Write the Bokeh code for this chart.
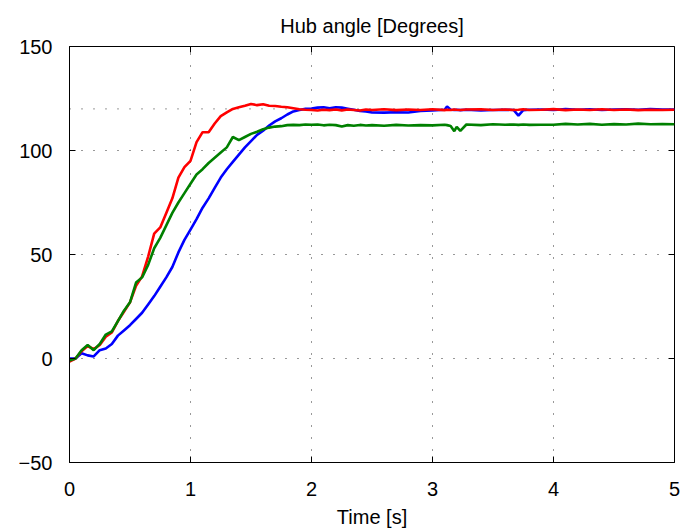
import math
from bokeh.plotting import figure
from bokeh.models import Range1d, FixedTicker, Span
from bokeh.embed import file_html
from bokeh.resources import INLINE

# ---- data ----
time_s = [0.0, 0.05, 0.1, 0.15, 0.2, 0.25, 0.3, 0.35, 0.4, 0.45,
          0.5, 0.55, 0.6, 0.65, 0.7, 0.75, 0.8, 0.85, 0.9, 0.95,
          1.0, 1.05, 1.1, 1.15, 1.2, 1.25, 1.3, 1.35, 1.4, 1.45,
          1.5, 1.55, 1.6, 1.65, 1.7, 1.75, 1.8, 1.85, 1.9, 1.95,
          2.0, 2.05, 2.1, 2.15, 2.2, 2.25, 2.3, 2.35, 2.4, 2.45,
          2.5, 2.6, 2.7, 2.8, 2.9, 3.0, 3.1, 3.12, 3.15, 3.18,
          3.2, 3.23, 3.28, 3.4, 3.5, 3.6, 3.67, 3.71, 3.75, 3.8,
          3.9, 4.0, 4.1, 4.2, 4.3, 4.4, 4.5, 4.6, 4.7, 4.8,
          4.9, 5.0]

blue_deg = [0.0, 0.0, 2.5, 1.5, 1.0, 4.0, 4.8, 7.0, 11.0, 13.5,
            16.0, 19.0, 22.0, 26.0, 30.0, 34.5, 39.0, 44.0, 51.0, 57.0,
            62.0, 67.0, 72.5, 77.0, 82.0, 87.0, 91.0, 94.5, 98.0, 101.5,
            104.5, 107.5, 109.5, 112.0, 114.0, 115.5, 117.3, 118.8, 119.5, 120.0,
            120.2, 120.6, 120.8, 120.3, 120.8, 120.6, 120.1, 119.6, 119.0, 118.8,
            118.3, 118.2, 118.4, 118.3, 119.0, 119.3, 119.6, 121.2, 119.6, 119.5,
            119.6, 119.4, 119.6, 119.3, 119.5, 119.6, 119.5, 116.8, 119.4, 119.6,
            119.7, 119.5, 119.9, 119.6, 119.8, 119.5, 119.7, 119.8, 119.6, 119.9,
            119.7, 119.7]

red_deg = [-1.5, 0.0, 3.5, 6.0, 4.5, 6.5, 10.5, 12.5, 18.0, 22.5,
           27.0, 35.0, 39.5, 49.0, 60.0, 63.0, 70.0, 77.0, 87.0, 92.0,
           95.0, 104.0, 108.8, 108.8, 113.0, 116.5, 118.3, 120.0, 120.8, 121.5,
           122.4, 121.8, 122.2, 121.5, 121.4, 121.0, 120.8, 120.3, 119.8, 119.6,
           119.5, 119.2, 119.6, 119.4, 119.7, 119.3, 119.7, 119.5, 119.2, 119.7,
           119.5, 119.8, 119.4, 119.7, 119.5, 119.8, 119.4, 119.6, 119.5, 119.7,
           119.6, 119.5, 119.7, 119.8, 119.5, 119.7, 119.5, 119.6, 119.8, 119.5,
           119.6, 119.9, 119.4, 119.7, 119.5, 119.8, 119.5, 119.7, 119.4, 119.6,
           119.5, 119.6]

green_deg = [-1.0, 0.0, 4.0, 6.5, 4.0, 7.0, 11.5, 13.0, 18.0, 23.0,
             27.0, 36.5, 39.0, 45.0, 53.0, 58.0, 64.0, 70.0, 75.0, 79.5,
             84.0, 88.5, 91.0, 94.0, 96.5, 99.0, 101.5, 106.5, 105.0, 106.5,
             108.0, 109.0, 110.2, 111.0, 111.5, 111.7, 112.2, 112.3, 112.2, 112.5,
             112.4, 112.5, 112.1, 112.4, 112.2, 111.5, 112.2, 111.9, 112.3, 112.0,
             112.2, 111.9, 112.3, 112.0, 112.2, 112.1, 112.4, 112.2, 111.8, 109.3,
             111.4, 109.4, 112.5, 112.2, 112.6, 112.4, 112.5, 112.3, 112.5, 112.3,
             112.4, 112.4, 112.8, 112.5, 112.8, 112.4, 112.7, 112.5, 112.9, 112.6,
             112.7, 112.6]

reference_deg = 120
x_ticks = [0, 1, 2, 3, 4, 5]
y_ticks = [-50, 0, 50, 100, 150]

FONT = "Liberation Sans"

p = figure(width=695, height=530, output_backend="svg", toolbar_location=None,
           x_range=Range1d(x_ticks[0], x_ticks[-1]),
           y_range=Range1d(y_ticks[0], y_ticks[-1]),
           title="Hub angle [Degrees]",
           min_border_left=69, min_border_right=21,
           min_border_top=46, min_border_bottom=68)

p.title.align = "center"
p.title.text_font = FONT
p.title.text_font_size = "20px"
p.title.text_font_style = "normal"
p.title.text_color = "black"
p.title.standoff = 10
p.title.padding = 5

p.background_fill_color = "white"
p.border_fill_color = "white"
p.outline_line_color = "black"
p.outline_line_width = 1
p.outline_line_alpha = 1

p.xaxis.ticker = FixedTicker(ticks=x_ticks)
p.yaxis.ticker = FixedTicker(ticks=y_ticks)
p.yaxis.major_label_overrides = {-50: "\u221250"}
p.xaxis.axis_label = "Time [s]"

for ax in p.xaxis + p.yaxis:
    ax.major_tick_in = 6
    ax.major_tick_out = 0
    ax.minor_tick_in = 0
    ax.minor_tick_out = 0
    ax.axis_line_color = "black"
    ax.major_tick_line_color = "black"
    ax.major_label_text_font = FONT
    ax.major_label_text_font_size = "20px"
    ax.major_label_text_color = "black"
    ax.axis_label_text_font = FONT
    ax.axis_label_text_font_size = "20px"
    ax.axis_label_text_font_style = "normal"
    ax.axis_label_text_color = "black"

p.xaxis.major_label_standoff = 19
p.xaxis.axis_label_standoff = 7
p.yaxis.major_label_standoff = 17

for g in (p.xgrid, p.ygrid):
    g.grid_line_color = "black"
    g.grid_line_dash = "1 11"
    g.grid_line_width = 1
    g.grid_line_alpha = 0.8

p.add_layout(Span(location=reference_deg, dimension="width", line_color="black",
                  line_dash="1 11", line_width=1, line_alpha=0.8, level="underlay"))

# mirrored inward ticks on the right and top edges (half of each dash is clipped by the frame)
p.scatter([x_ticks[-1]] * len(y_ticks), y_ticks, marker="dash", size=12,
          line_color="black", line_width=1)
p.scatter(x_ticks, [y_ticks[-1]] * len(x_ticks), marker="dash", size=12,
          angle=math.pi / 2, line_color="black", line_width=1)

p.line(time_s, blue_deg, line_color="#0000ff", line_width=2.6)
p.line(time_s, red_deg, line_color="#ff0000", line_width=2.6)
p.line(time_s, green_deg, line_color="#008000", line_width=2.6)

open("out.html", "w").write(file_html(p, INLINE))
